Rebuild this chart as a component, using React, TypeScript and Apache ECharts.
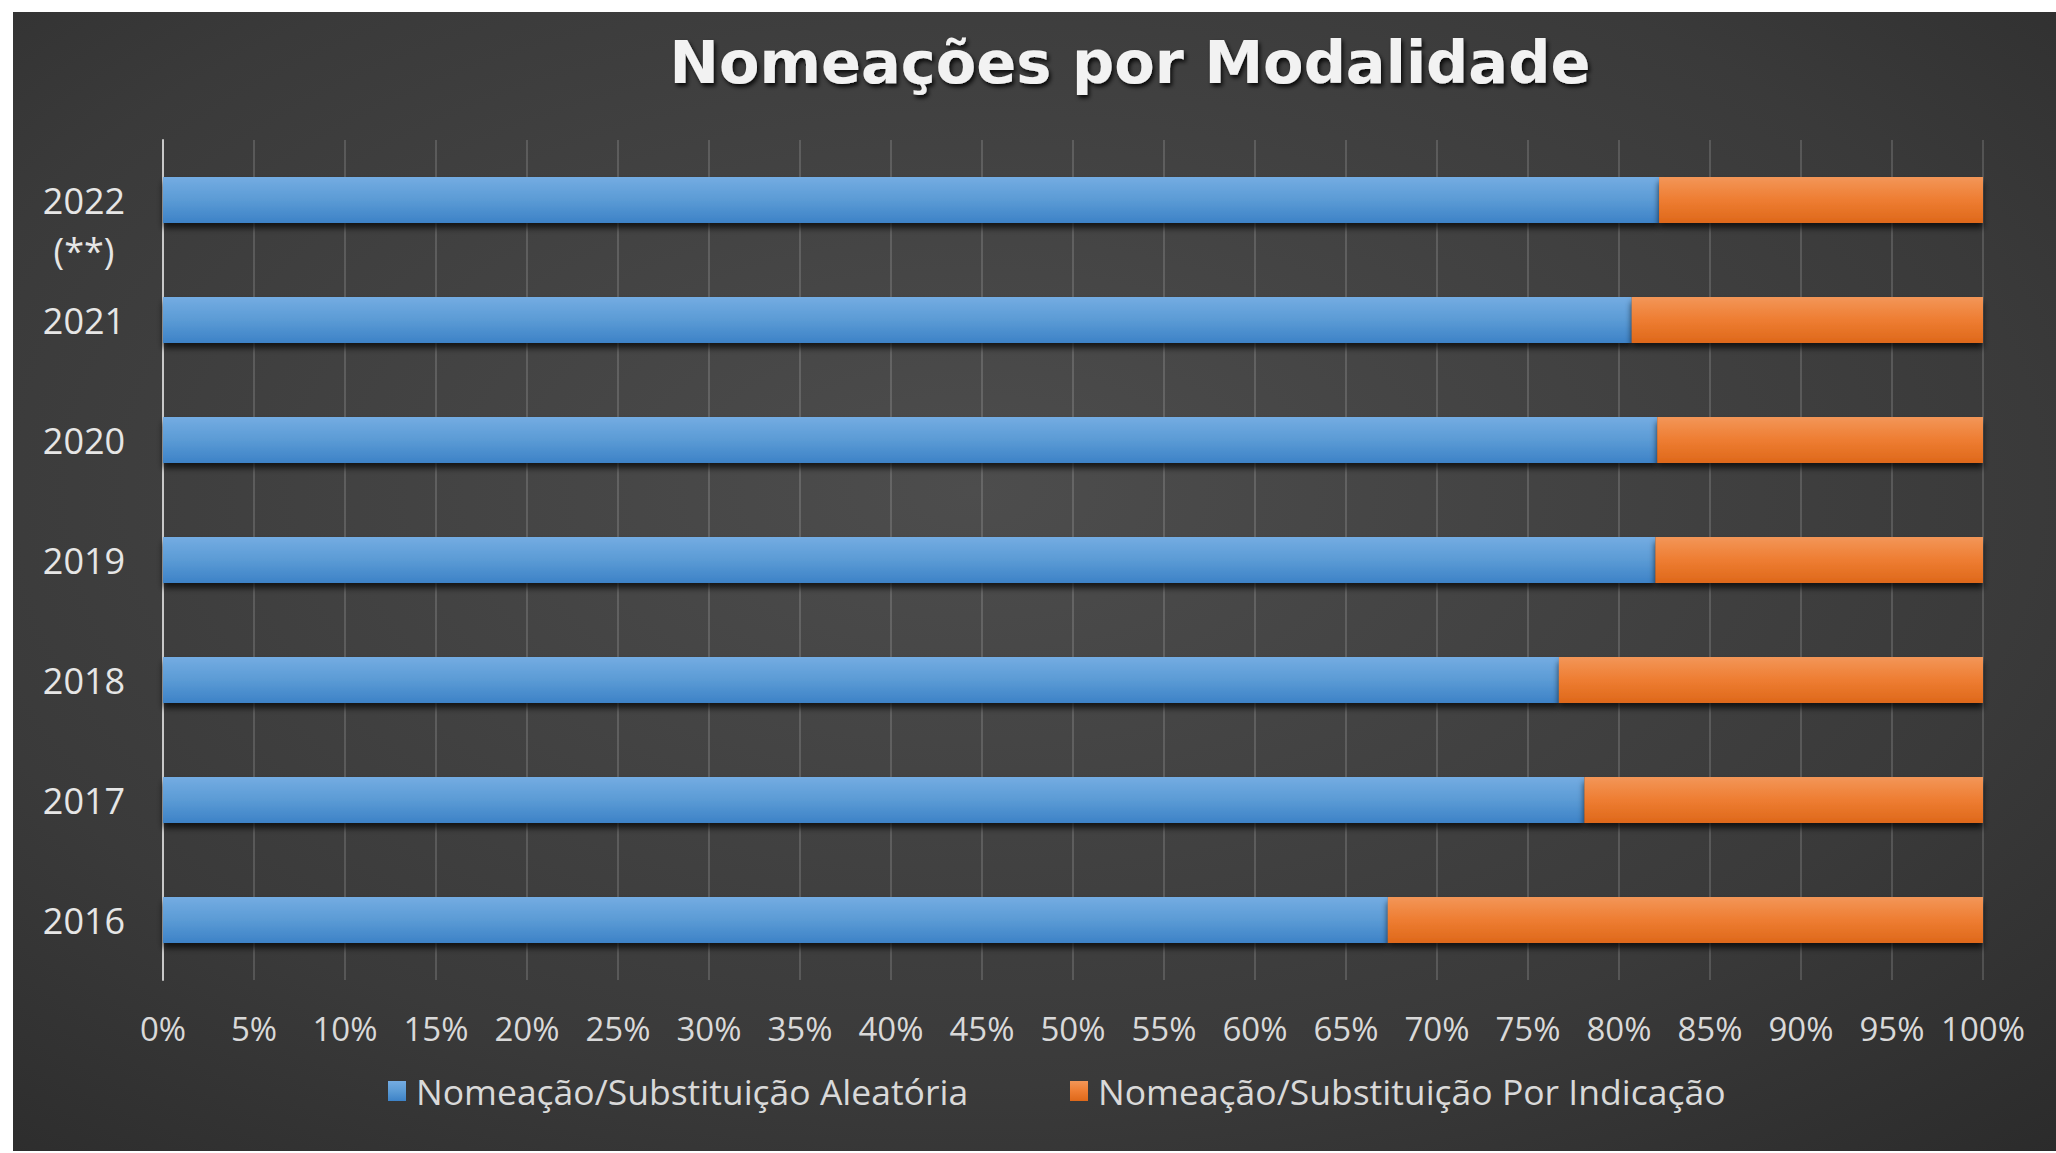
import React, { useEffect, useRef } from "react";
import * as echarts from "echarts";

const years = ["2016", "2017", "2018", "2019", "2020", "2021", "2022\n(**)"];
const aleatoria = [67.3, 78.1, 76.7, 82.0, 82.1, 80.7, 82.2];
const indicacao = [32.7, 21.9, 23.3, 18.0, 17.9, 19.3, 17.8];
const seriesNames = ["Nomeação/Substituição Aleatória", "Nomeação/Substituição Por Indicação"];
const titleText = "Nomeações por Modalidade";

const FONT = "Open Sans";

export default function App() {
  const ref = useRef<HTMLDivElement>(null);
  useEffect(() => {
    if (!ref.current) return;
    const chart = echarts.init(ref.current, undefined, { renderer: "svg" });
    const catData = years.map((y) =>
      y.indexOf("\n") >= 0
        ? { value: y, textStyle: { align: "center", lineHeight: 50 } }
        : y
    );
    const blueGrad = new echarts.graphic.LinearGradient(0, 0, 0, 1, [
      { offset: 0, color: "#74ace2" },
      { offset: 0.5, color: "#5b9bd5" },
      { offset: 1, color: "#3d82c7" },
    ]);
    const orangeGrad = new echarts.graphic.LinearGradient(0, 0, 0, 1, [
      { offset: 0, color: "#f39658" },
      { offset: 0.5, color: "#ee7d32" },
      { offset: 1, color: "#de681a" },
    ]);
    const legendCommon = {
      top: 1061,
      itemWidth: 18,
      itemHeight: 20,
      icon: "rect",
      padding: 0,
      textStyle: { fontFamily: FONT, fontSize: 35.5, color: "#d9d9d9", padding: [0, 0, 0, 5] },
    };
    chart.setOption({
      animation: false,
      backgroundColor: {
        type: "radial",
        x: 0.47,
        y: 0.42,
        r: 0.95,
        colorStops: [
          { offset: 0, color: "#4d4d4d" },
          { offset: 0.55, color: "#3a3a3a" },
          { offset: 1, color: "#222222" },
        ],
      },
      title: {
        text: titleText,
        left: 1117,
        top: 21,
        padding: 0,
        textAlign: "center",
        textStyle: {
          fontFamily: "DejaVu Sans",
          fontSize: 59,
          fontWeight: "bold",
          color: "#f2f2f2",
          textShadowColor: "rgba(0,0,0,0.85)",
          textShadowBlur: 4,
          textShadowOffsetX: 2,
          textShadowOffsetY: 3,
        },
      },
      legend: [
        { ...legendCommon, data: [seriesNames[0]], left: 375 },
        { ...legendCommon, data: [seriesNames[1]], left: 1057 },
      ],
      grid: { left: 150, right: 73, top: 128, bottom: 171, containLabel: false, outerBoundsMode: "none" },
      xAxis: {
        type: "value",
        min: 0,
        max: 100,
        interval: 5,
        axisLine: { show: false },
        axisTick: { show: false },
        splitLine: { show: true, lineStyle: { color: "rgba(255,255,255,0.2)", width: 1.5 } },
        axisLabel: {
          formatter: "{value}%",
          fontFamily: FONT,
          fontSize: 33,
          color: "#d9d9d9",
          margin: 32,
        },
      },
      yAxis: {
        type: "category",
        data: catData,
        axisLine: { show: true, lineStyle: { color: "#c8c8c8", width: 2 } },
        axisTick: { show: false },
        splitLine: { show: false },
        axisLabel: {
          fontFamily: FONT,
          fontSize: 36,
          color: "#e6e6e6",
          align: "center",
          margin: 79,
          formatter: (v: string) => (v.indexOf("\n") >= 0 ? "\n" + v : v),
        },
      },
      series: [
        {
          name: seriesNames[0],
          type: "bar",
          stack: "total",
          barWidth: 46,
          data: aleatoria,
          itemStyle: {
            color: blueGrad,
            shadowColor: "rgba(0,0,0,0.7)",
            shadowBlur: 6,
            shadowOffsetY: 5,
          },
        },
        {
          name: seriesNames[1],
          type: "bar",
          stack: "total",
          barWidth: 46,
          data: indicacao,
          itemStyle: {
            color: orangeGrad,
            shadowColor: "rgba(0,0,0,0.7)",
            shadowBlur: 6,
            shadowOffsetY: 5,
          },
        },
      ],
      color: ["#5b9bd5", "#ed7d31"],
    });
    return () => chart.dispose();
  }, []);
  return (
    <div
      ref={ref}
      style={{ position: "absolute", left: 13, top: 12, width: 2043, height: 1139 }}
    />
  );
}
